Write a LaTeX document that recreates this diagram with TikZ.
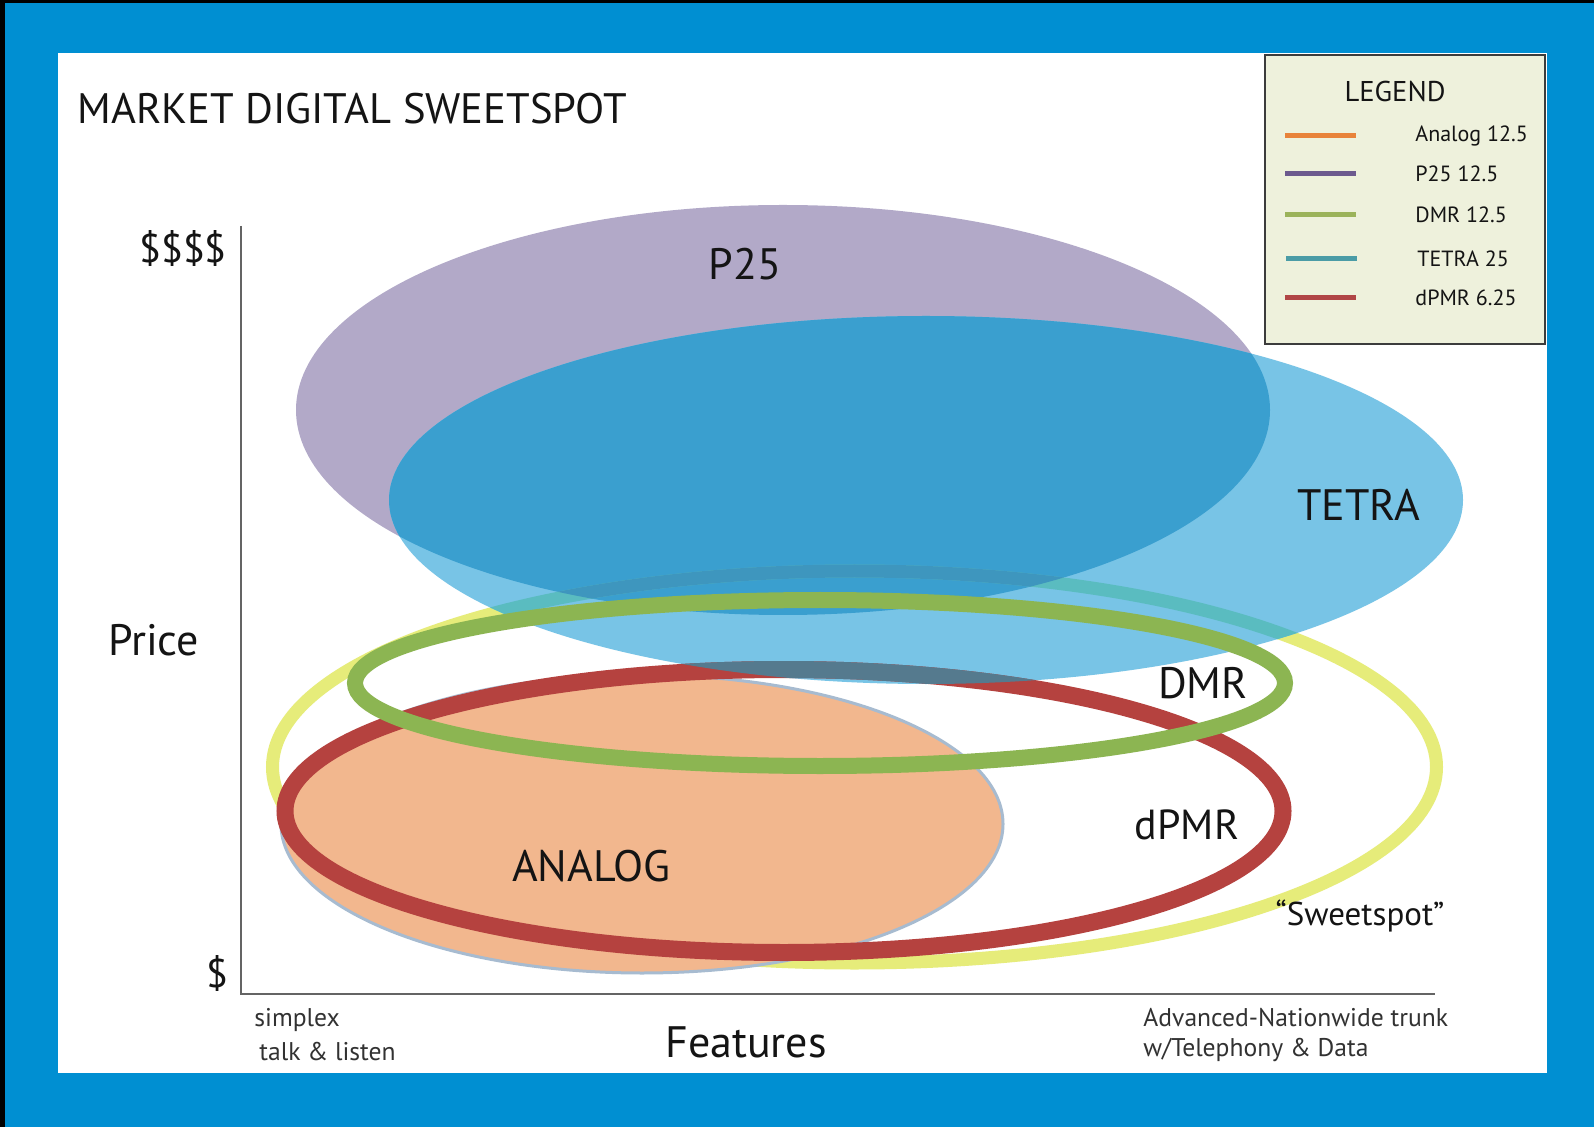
\documentclass[tikz,border=0pt]{standalone}
\usepackage{fontspec}
\setmainfont{PT Sans}
\usepackage{xcolor}

\definecolor{frameblue}{RGB}{0,143,210}
\definecolor{p25fill}{RGB}{178,169,200}
\definecolor{tetralight}{RGB}{120,196,230}
\definecolor{tetradark}{RGB}{58,159,207}
\definecolor{sweetyellow}{RGB}{230,236,122}
\definecolor{sweetteal}{RGB}{90,188,192}
\definecolor{sweetdark}{RGB}{62,150,190}
\definecolor{analogfill}{RGB}{242,183,142}
\definecolor{analogedge}{RGB}{167,187,208}
\definecolor{dpmrred}{RGB}{181,66,63}
\definecolor{dpmrslate}{RGB}{85,122,142}
\definecolor{dmrgreen}{RGB}{140,181,82}
\definecolor{keyfill}{RGB}{238,241,220}
\definecolor{keyedge}{RGB}{60,60,60}
\definecolor{keyorange}{RGB}{232,131,58}
\definecolor{keypurple}{RGB}{108,90,142}
\definecolor{keygreen}{RGB}{155,179,90}
\definecolor{keyteal}{RGB}{74,156,166}
\definecolor{keyred}{RGB}{176,70,70}
\definecolor{axisgray}{RGB}{100,100,100}
\definecolor{txtdark}{RGB}{20,20,20}
\definecolor{txtgray}{RGB}{50,50,50}

\begin{document}
\begin{tikzpicture}[x=0.5pt,y=-0.5pt,
	biglabel/.style={font=\fontsize{22}{26}\selectfont,text=txtdark,inner sep=0pt},
	smalllabel/.style={font=\fontsize{12.8}{15}\selectfont,text=txtgray,anchor=west,inner sep=0pt},
	keylabel/.style={font=\fontsize{11}{13}\selectfont,text=txtdark,anchor=west,inner sep=0pt},
	keyline/.style={line width=2.5pt},
	axisline/.style={draw=axisgray,line width=1pt}]
	\useasboundingbox (0,0) rectangle (1594,1127);
	% frame and panel
	\fill[frameblue] (0,0) rectangle (1594,1127);
	\fill[black] (0,0) rectangle (5,1127);
	\fill[black] (0,0) rectangle (1594,3);
	\fill[white] (58,53) rectangle (1547,1073);

	% sweetspot ring sits under everything
	\draw[sweetyellow,line width=6.5pt] (854.5,767) ellipse [x radius=582,y radius=196];
	% P25 and TETRA
	\fill[p25fill] (783,410) ellipse [x radius=487,y radius=205];
	\fill[tetralight] (926,500) ellipse [x radius=537,y radius=184];
	\begin{scope}
		\clip (783,410) ellipse [x radius=487,y radius=205];
		\fill[tetradark] (926,500) ellipse [x radius=537,y radius=184];
	\end{scope}
	\begin{scope}
		\clip (926,500) ellipse [x radius=537,y radius=184];
		\draw[sweetteal,line width=6.5pt] (854.5,767) ellipse [x radius=582,y radius=196];
	\end{scope}
	\begin{scope}
		\clip (783,410) ellipse [x radius=487,y radius=205];
		\clip (926,500) ellipse [x radius=537,y radius=184];
		\draw[sweetdark,line width=6.5pt] (854.5,767) ellipse [x radius=582,y radius=196];
	\end{scope}

	% ANALOG
	\draw[analogedge,fill=analogfill,line width=1.5pt] (642,824) ellipse [x radius=361,y radius=149];
	% dPMR ring
	\draw[dpmrred,line width=8.5pt] (784,811) ellipse [x radius=499,y radius=141.5];
	\begin{scope}
		\clip (926,500) ellipse [x radius=537,y radius=184];
		\draw[dpmrslate,line width=8.5pt] (784,811) ellipse [x radius=499,y radius=141.5];
	\end{scope}
	% DMR ring
	\draw[dmrgreen,line width=8pt] (820,683) ellipse [x radius=465,y radius=83];

	% axes
	\coordinate (ytop) at (241,226);
	\coordinate (origin) at (241,994);
	\coordinate (xend) at (1435,994);
	\draw[axisline] (ytop) -- (origin) -- (xend);

	% texts
	\node[biglabel,anchor=west,font=\fontsize{21.3}{25}\selectfont] (title) at (77,109) {MARKET DIGITAL SWEETSPOT};
	\node[biglabel,font=\fontsize{20}{24}\selectfont] (high) at (183,249) {\$\$\$\$};
	\node[biglabel,font=\fontsize{20}{24}\selectfont] (low) at (217,973) {\$};
	\node[biglabel] (price) at (153.5,640) {Price};
	\node[biglabel] (features) at (746,1042) {Features};
	\node[smalllabel] (simplex) at (254,1020) {simplex};
	\node[smalllabel] (talk) at (259,1052) {talk \& listen};
	\node[smalllabel] (trunk) at (1143,1018) {Advanced-Nationwide trunk};
	\node[smalllabel] (telephony) at (1143,1050) {w/Telephony \& Data};
	\node[biglabel] (p25) at (745,264) {P25};
	\node[biglabel] (tetra) at (1359,505) {TETRA};
	\node[biglabel] (dmr) at (1203,683) {DMR};
	\node[biglabel,font=\fontsize{21}{25}\selectfont] (dpmr) at (1187,825) {dPMR};
	\node[biglabel] (analog) at (591,866) {ANALOG};
	\node[biglabel,font=\fontsize{16.5}{20}\selectfont] (sweet) at (1360,916) {``Sweetspot''};

	% legend
	\draw[keyedge,fill=keyfill,line width=1.25pt] (1265,55) rectangle (1545,344);
	\node[biglabel,font=\fontsize{14.3}{17}\selectfont] (legend) at (1395,91.5) {LEGEND};
	\draw[keyline,keyorange] (1285,136) -- (1356,136);
	\draw[keyline,keypurple] (1285,174) -- (1356,174);
	\draw[keyline,keygreen] (1285,214.5) -- (1356,214.5);
	\draw[keyline,keyteal] (1286,259) -- (1357,259);
	\draw[keyline,keyred] (1285,298) -- (1356,298);
	\node[keylabel] (kanalog) at (1415,136) {Analog 12.5};
	\node[keylabel] (kp25) at (1415,174) {P25 12.5};
	\node[keylabel] (kdmr) at (1415,214.5) {DMR 12.5};
	\node[keylabel] (ktetra) at (1417,259) {TETRA 25};
	\node[keylabel] (kdpmr) at (1415,298) {dPMR 6.25};
\end{tikzpicture}
\end{document}
